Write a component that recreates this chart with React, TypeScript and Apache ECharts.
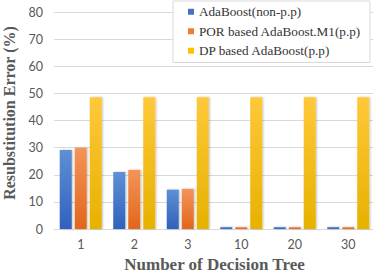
import React, { useEffect, useRef } from "react";
import * as echarts from "echarts";

const categories = ["1", "2", "3", "10", "20", "30"];
const seriesNames = ["AdaBoost(non-p.p)", "POR based AdaBoost.M1(p.p)", "DP based AdaBoost(p.p)"];
const adaBoost = [29.1, 21.0, 14.5, 0.7, 0.7, 0.7];
const porAdaBoost = [30.0, 21.8, 14.8, 0.7, 0.7, 0.7];
const dpAdaBoost = [48.6, 48.6, 48.6, 48.6, 48.6, 48.6];
const yTicks = { min: 0, max: 80, interval: 10 };

const grad = (top: string, bottom: string) =>
  new echarts.graphic.LinearGradient(0, 0, 0, 1, [
    { offset: 0, color: top },
    { offset: 1, color: bottom },
  ]);

export default function App() {
  const ref = useRef<HTMLDivElement>(null);
  useEffect(() => {
    if (!ref.current) return;
    const chart = echarts.init(ref.current, null, { renderer: "svg" });
    const colors = [
      grad("#5f8fd5", "#2f62bd"),
      grad("#f39459", "#e2661c"),
      grad("#ffc83a", "#e6b200"),
    ];
    const legendColors = ["#4472c4", "#ed7d31", "#ffc000"];
    const values = [adaBoost, porAdaBoost, dpAdaBoost];
    chart.setOption({
      animation: false,
      grid: { left: 54, right: -2, top: 12, bottom: 44, containLabel: false, outerBoundsMode: "none" },
      legend: {
        orient: "vertical",
        left: 173,
        top: 1,
        padding: [1, 9, 2, 15],
        itemWidth: 6,
        itemHeight: 6,
        itemGap: 0,
        icon: "rect",
        backgroundColor: "#ffffff",
        borderColor: "#d9d9d9",
        borderWidth: 1,
        borderRadius: 0,
        textStyle: {
          fontFamily: "Liberation Serif",
          fontSize: 13.2,
          color: "#333333",
          lineHeight: 19.5,
        },
        data: seriesNames.map((n, i) => ({ name: n, itemStyle: { color: legendColors[i] } })),
      },
      xAxis: {
        type: "category",
        data: categories,
        axisTick: { show: false },
        axisLine: { lineStyle: { color: "#d9d9d9", width: 1 } },
        axisLabel: { color: "#595959", fontSize: 12.5, fontFamily: "Lato", margin: 9 },
        name: "Number of Decision Tree",
        nameLocation: "middle",
        nameGap: 23,
        nameTextStyle: {
          fontFamily: "Liberation Serif",
          fontWeight: "bold",
          fontSize: 17,
          color: "#595959",
        },
      },
      yAxis: {
        type: "value",
        min: yTicks.min,
        max: yTicks.max,
        interval: yTicks.interval,
        axisLine: { show: false },
        axisTick: { show: false },
        splitLine: { lineStyle: { color: "#d9d9d9", width: 1 } },
        axisLabel: { color: "#595959", fontSize: 12.5, fontFamily: "Lato", margin: 11 },
        name: "Resubstitution Error (%)",
        nameLocation: "middle",
        nameGap: 35,
        nameTextStyle: {
          fontFamily: "Liberation Serif",
          fontWeight: "bold",
          fontSize: 16,
          color: "#595959",
          padding: [0, 0, 0, 15],
        },
      },
      series: seriesNames.map((n, i) => ({
        name: n,
        type: "bar",
        data: values[i],
        barWidth: 12,
        barGap: "25%",
        itemStyle: {
          color: colors[i],
          shadowColor: "rgba(0,0,0,0.25)",
          shadowBlur: 2,
          shadowOffsetX: 1,
        },
      })),
    });
    return () => chart.dispose();
  }, []);
  return <div ref={ref} style={{ width: 373, height: 273, position: "absolute", left: 0, top: 0 }} />;
}
